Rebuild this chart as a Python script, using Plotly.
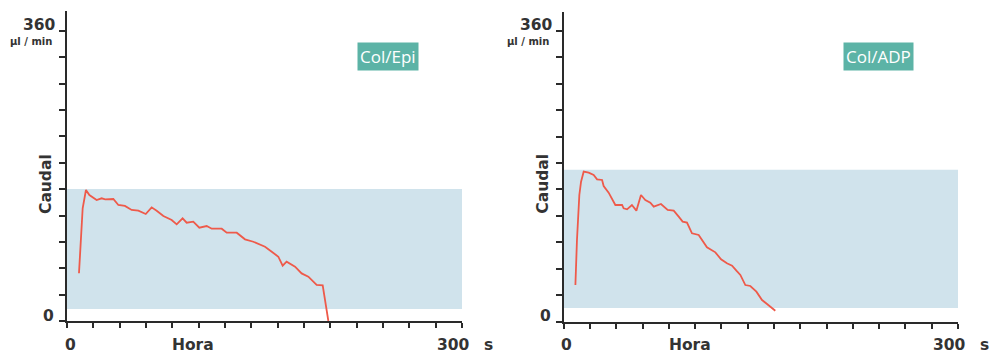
import plotly.graph_objects as go

W, H = 994, 355

# ---- data (seconds, µl/min) ----
epi_t = [9.1, 11.9, 14.4, 17.0, 22.5, 26.3, 29.0, 35.2, 39.0, 44.0, 49.1, 54.2, 59.8, 64.3, 68.1,
         73.2, 79.5, 83.3, 87.8, 90.9, 95.9, 100.5, 106.1, 109.9, 117.5, 121.3, 128.9, 135.2,
         141.5, 150.4, 155.5, 160.5, 163.8, 166.8, 173.2, 178.2, 183.3, 189.6, 194.2, 195.2, 198.5]
epi_v = [59.2, 139.9, 162.6, 156.4, 150.2, 152.3, 151.0, 151.4, 144.0, 142.8, 137.8, 136.9, 132.8,
         141.1, 136.9, 130.3, 125.4, 120.0, 127.5, 122.0, 123.3, 115.8, 117.9, 114.6, 114.6, 109.6,
         109.6, 101.4, 98.4, 92.2, 86.0, 79.8, 68.6, 73.6, 67.4, 59.1, 55.0, 44.7, 44.3, 34.3, 0.0]

adp_t = [8.9, 10.1, 11.9, 13.2, 15.2, 19.0, 22.8, 25.4, 29.2, 30.4, 34.2, 39.3, 44.4, 45.6, 48.2,
         51.9, 55.3, 58.8, 62.1, 65.9, 68.5, 74.0, 79.1, 83.7, 87.5, 90.5, 93.8, 97.6, 102.7, 109.0,
         115.4, 119.7, 124.2, 128.1, 131.4, 134.4, 138.2, 142.0, 146.6, 150.9, 154.7, 158.5, 161.0]
adp_v = [45.2, 101.0, 156.8, 173.3, 185.7, 184.4, 181.6, 176.2, 175.4, 167.9, 159.7, 144.4, 144.4,
         140.2, 139.0, 144.4, 137.4, 156.8, 150.6, 147.3, 142.3, 145.6, 138.2, 137.4, 129.9, 123.7,
         122.5, 109.3, 107.2, 91.9, 85.7, 77.0, 72.1, 69.2, 63.0, 57.7, 45.2, 44.0, 37.0, 26.6, 21.7,
         16.3, 13.4]

band_epi = [14.9, 163.9]
band_adp = [16.6, 188.0]
band_x = [0, 301]

panel_labels = ["Col/Epi", "Col/ADP"]
y_ticks = [i * 360 / 11 for i in range(12)]
x_ticks = list(range(0, 301, 20))
y_top_label, y_bottom_label = "360", "0"
x_left_label, x_right_label, x_unit = "0", "300", "s"
x_title, y_title, y_unit = "Hora", "Caudal", "µl / min"

LINE = "#ee5a4a"
AX = "#2a2a2a"
TXT = "#333333"
BAND = "#d0e3ec"
TEAL = "#5cb3a6"

fig = go.Figure()

fig.add_trace(go.Scatter(x=epi_t, y=epi_v, mode="lines", line=dict(color=LINE, width=1.8),
                         xaxis="x", yaxis="y", showlegend=False, hoverinfo="skip"))
fig.add_trace(go.Scatter(x=adp_t, y=adp_v, mode="lines", line=dict(color=LINE, width=1.8),
                         xaxis="x2", yaxis="y2", showlegend=False, hoverinfo="skip"))

def px2x(p):
    return p / W

def px2y(p):
    return 1 - p / H

panels = [
    dict(x0=67, x1=462, y0=321, ytop=11),
    dict(x0=563.7, x1=958, y0=321.5, ytop=12),
]

axis_common = dict(showgrid=False, zeroline=False, showline=True, linecolor=AX, linewidth=2,
                   ticks="outside", tickcolor=AX, tickwidth=2, showticklabels=False)

for i, p in enumerate(panels):
    sfx = "" if i == 0 else str(i + 1)
    yr_top = (p["y0"] - p["ytop"]) / ((p["y0"] - 31) / 360)
    fig.layout["xaxis" + sfx] = dict(axis_common, domain=[px2x(p["x0"]), px2x(p["x1"])],
                                     range=[0, 300], tickvals=x_ticks, ticklen=5,
                                     anchor="y" + sfx)
    fig.layout["yaxis" + sfx] = dict(axis_common, domain=[px2y(p["y0"]), px2y(p["ytop"])],
                                     range=[0, yr_top], tickvals=y_ticks, ticklen=6,
                                     anchor="x" + sfx)

# shaded bands
for i, band in enumerate([band_epi, band_adp]):
    sfx = "" if i == 0 else str(i + 1)
    fig.add_shape(type="rect", xref="x" + sfx, yref="y" + sfx, x0=band_x[0], x1=band_x[1],
                  y0=band[0], y1=band[1], fillcolor=BAND, line=dict(width=0), layer="below")

txt_font = dict(family="DejaVu Sans", size=15.5, color=TXT, weight="bold")
ann = []
for i, p in enumerate(panels):
    off = p["x0"] - 67
    def a(text, x, y, font, xanchor="center", textangle=0):
        ann.append(dict(text=text, x=px2x(x + off), y=px2y(y), xref="paper", yref="paper",
                        showarrow=False, font=font, xanchor=xanchor, yanchor="middle",
                        textangle=textangle))
    a(y_top_label, 58, 25, txt_font, xanchor="right")
    a(y_unit, 54, 42, dict(family="DejaVu Sans", size=10, color=TXT, weight="bold"), xanchor="right")
    a(y_bottom_label, 56, 316, txt_font, xanchor="right")
    a(x_left_label, 70, 345, txt_font)
    a(x_title, 193, 345, txt_font)
    a(x_right_label, 453, 345, txt_font)
    a(x_unit, 488, 345, txt_font)
    a(y_title, 46, 184, txt_font, textangle=-90)

label_centers = [(388, 56), (878.5, 56)]
for text, (cx, cy) in zip(panel_labels, label_centers):
    ann.append(dict(text=text, x=px2x(cx), y=px2y(cy), xref="paper", yref="paper",
                    showarrow=False, font=dict(family="Open Sans", size=17, color="white"),
                    bgcolor=TEAL, borderpad=2, xanchor="center", yanchor="middle"))

fig.update_layout(width=W, height=H, margin=dict(l=0, r=0, t=0, b=0),
                  paper_bgcolor="white", plot_bgcolor="white", annotations=ann)

fig.write_html("out.html")
